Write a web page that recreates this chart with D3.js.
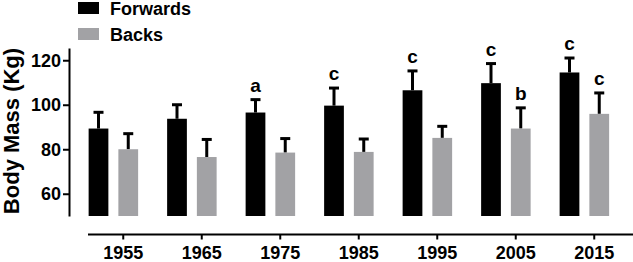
<!DOCTYPE html>
<html>
<head>
<meta charset="utf-8">
<script src="https://cdn.jsdelivr.net/npm/d3@7"></script>
<style>
  body { margin: 0; background: #fff; }
  text { font-family: "Liberation Sans", Arial, sans-serif; font-weight: bold; }
</style>
</head>
<body>
<div id="chart"></div>
<script>
// data
var years = ['1955', '1965', '1975', '1985', '1995', '2005', '2015'];
var forwards = [89.3, 93.7, 96.5, 99.6, 106.5, 109.7, 114.5];
var forwardsErr = [7.3, 6.3, 5.8, 7.9, 8.7, 8.8, 6.5];
var backs = [80.0, 76.5, 78.5, 78.8, 85.1, 89.3, 95.9];
var backsErr = [7.0, 7.9, 6.3, 5.8, 5.2, 9.3, 9.4];
var forwardsSig = ['', '', 'a', 'c', 'c', 'c', 'c'];
var backsSig = ['', '', '', '', '', 'b', 'c'];
var groups = ['Forwards', 'Backs'];
var yTicks = [60, 80, 100, 120];

var colors = { Forwards: '#000000', Backs: '#a2a2a5' };

var width = 633, height = 262;

var svg = d3.select('#chart').append('svg')
    .attr('width', width)
    .attr('height', height);

var xscale = d3.scaleBand()
    .domain(years)
    .range([84, 633.5])
    .padding(0);

var xsub = d3.scaleBand()
    .domain(groups)
    .range([-24.75, 24.75])
    .paddingInner(0.336)
    .paddingOuter(0);

var yscale = d3.scaleLinear()
    .domain([50, 125.5])
    .range([216, 48]);

// rows for drawing
var rows = [];
years.forEach(function(yr, i) {
    rows.push({ year: yr, group: 'Forwards', value: forwards[i], err: forwardsErr[i], sig: forwardsSig[i] });
    rows.push({ year: yr, group: 'Backs', value: backs[i], err: backsErr[i], sig: backsSig[i] });
});

function cx(d) { return xscale(d.year) + xscale.bandwidth() / 2 + xsub(d.group); }

// y axis
var yaxis = d3.axisLeft(yscale)
    .tickValues(yTicks)
    .tickSize(6)
    .tickSizeOuter(0)
    .tickPadding(2);

var gy = svg.append('g')
    .attr('transform', 'translate(69,0)')
    .call(yaxis);
gy.select('.domain').attr('stroke-width', 2);
gy.selectAll('.tick line').attr('stroke-width', 2);
gy.selectAll('.tick text')
    .style('font-size', '18px')
    .attr('fill', '#000');

// x axis
var xaxis = d3.axisBottom(xscale)
    .tickSize(5)
    .tickSizeOuter(0)
    .tickPadding(7);

var gx = svg.append('g')
    .attr('transform', 'translate(0,234.5)')
    .call(xaxis);
gx.select('.domain').attr('d', 'M88,0H633').attr('stroke-width', 2);
gx.selectAll('.tick line').attr('stroke-width', 2);
gx.selectAll('.tick text')
    .style('font-size', '18px')
    .attr('fill', '#000');

// y title
svg.append('text')
    .attr('transform', 'rotate(-90)')
    .attr('x', -131)
    .attr('y', 19)
    .attr('text-anchor', 'middle')
    .style('font-size', '22px')
    .text('Body Mass (Kg)');

// error bars (upper only)
var eb = svg.append('g').selectAll('.err')
    .data(rows)
    .enter()
    .append('g');

eb.append('line')
    .attr('x1', cx)
    .attr('x2', cx)
    .attr('y1', function(d) { return yscale(d.value); })
    .attr('y2', function(d) { return yscale(d.value + d.err); })
    .attr('stroke', '#000')
    .attr('stroke-width', 3);

eb.append('line')
    .attr('x1', function(d) { return cx(d) - 5; })
    .attr('x2', function(d) { return cx(d) + 5; })
    .attr('y1', function(d) { return yscale(d.value + d.err); })
    .attr('y2', function(d) { return yscale(d.value + d.err); })
    .attr('stroke', '#000')
    .attr('stroke-width', 3);

// bars
svg.append('g').selectAll('.bar')
    .data(rows)
    .enter()
    .append('rect')
    .attr('class', 'bar')
    .attr('x', function(d) { return cx(d) - xsub.bandwidth() / 2; })
    .attr('y', function(d) { return yscale(d.value); })
    .attr('width', xsub.bandwidth())
    .attr('height', function(d) { return yscale(50) - yscale(d.value); })
    .attr('fill', function(d) { return colors[d.group]; });

// significance letters
svg.append('g').selectAll('.sig')
    .data(rows.filter(function(d) { return d.sig; }))
    .enter()
    .append('text')
    .attr('x', cx)
    .attr('y', function(d) { return yscale(d.value + d.err) - 8; })
    .attr('text-anchor', 'middle')
    .style('font-size', '19px')
    .text(function(d) { return d.sig; });

// legend
var legend = svg.append('g').selectAll('.legend')
    .data(groups)
    .enter()
    .append('g')
    .attr('transform', function(d, i) { return 'translate(78,' + (2 + i * 26) + ')'; });

legend.append('rect')
    .attr('width', 21)
    .attr('height', 12)
    .attr('fill', function(d) { return colors[d]; });

legend.append('text')
    .attr('x', 32)
    .attr('y', 12.5)
    .style('font-size', '18px')
    .text(function(d) { return d; });
</script>
</body>
</html>
